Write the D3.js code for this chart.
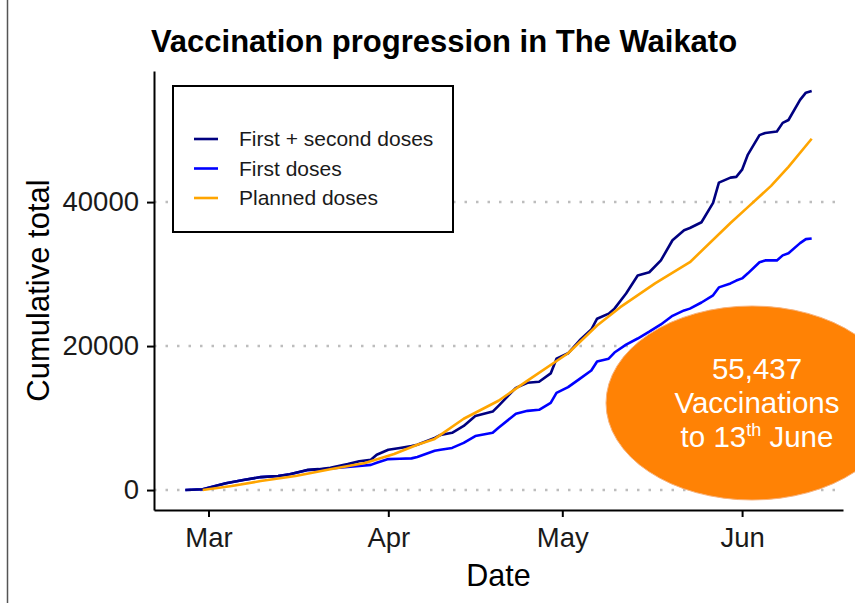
<!DOCTYPE html>
<html>
<head>
<meta charset="utf-8">
<script src="https://cdn.jsdelivr.net/npm/d3@7"></script>
<style>
  body { margin: 0; background: #fff; }
  text { font-family: "Liberation Sans", Arial, sans-serif; }
</style>
</head>
<body>
<div id="chart"></div>
<script>
// readings, cumulative totals
const actualDates = [
  "2021-02-25", "2021-02-28", "2021-03-04", "2021-03-07", "2021-03-10", "2021-03-13",
  "2021-03-15", "2021-03-18", "2021-03-20", "2021-03-22", "2021-03-25", "2021-03-27",
  "2021-03-29", "2021-03-30", "2021-04-01", "2021-04-03", "2021-04-05", "2021-04-06",
  "2021-04-09", "2021-04-10", "2021-04-12", "2021-04-14", "2021-04-16", "2021-04-19",
  "2021-04-20", "2021-04-23", "2021-04-25", "2021-04-27", "2021-04-29", "2021-04-30",
  "2021-05-02", "2021-05-04", "2021-05-06", "2021-05-07", "2021-05-09", "2021-05-10",
  "2021-05-12", "2021-05-14", "2021-05-16", "2021-05-18", "2021-05-20", "2021-05-22",
  "2021-05-23", "2021-05-25", "2021-05-27", "2021-05-28", "2021-05-30", "2021-05-31",
  "2021-06-01", "2021-06-02", "2021-06-04", "2021-06-05", "2021-06-07", "2021-06-08",
  "2021-06-09", "2021-06-11", "2021-06-12", "2021-06-13",
];
const firstSecondDoses = [
  0, 100, 950, 1400, 1800, 1950,
  2200, 2800, 2900, 3100, 3600, 4000,
  4200, 4900, 5600, 5850, 6100, 6300,
  7250, 7650, 7950, 8900, 10300, 10900,
  11700, 14200, 14900, 15050, 16200, 18250,
  19000, 20800, 22300, 23800, 24500, 25200,
  27300, 29800, 30250, 31900, 34700, 36100,
  36400, 37200, 39900, 42700, 43400, 43500,
  44500, 46600, 49300, 49600, 49800, 51000,
  51400, 54200, 55200, 55437,
];
const firstDoses = [
  0, 100, 950, 1400, 1800, 1950,
  2200, 2750, 2850, 3000, 3200, 3350,
  3500, 3800, 4300, 4350, 4400, 4600,
  5450, 5600, 5850, 6550, 7500, 7950,
  8650, 10600, 11000, 11150, 12100, 13500,
  14300, 15450, 16600, 17850, 18250, 19100,
  20200, 21050, 22000, 23000, 24200, 24950,
  25200, 26050, 27050, 28150, 28700, 29100,
  29400, 30100, 31650, 31900, 31900, 32600,
  32900, 34300, 34850, 34950,
];
const plannedDates = [
  "2021-02-28", "2021-03-05", "2021-03-10", "2021-03-16", "2021-03-22", "2021-03-28",
  "2021-04-02", "2021-04-06", "2021-04-09", "2021-04-14", "2021-04-20", "2021-04-25",
  "2021-05-02", "2021-05-07", "2021-05-11", "2021-05-17", "2021-05-23", "2021-05-30",
  "2021-06-02", "2021-06-06", "2021-06-09", "2021-06-13",
];
const plannedDoses = [
  0, 550, 1250, 1950, 2900, 3750,
  5000, 6300, 7100, 9900, 12400, 15200,
  19000, 22850, 25400, 28700, 31650, 37100,
  39300, 42250, 44900, 48800,
];

const yTicks = [0, 20000, 40000];
const monthTicks = ["2021-03-01", "2021-04-01", "2021-05-01", "2021-06-01"];
const monthLabels = ["Mar", "Apr", "May", "Jun"];

const seriesNames = ["First + second doses", "First doses", "Planned doses"];
const seriesColors = ["#000080", "#0000ff", "#ffa500"];

const parseDate = d3.timeParse("%Y-%m-%d");

const width = 855,
  height = 603;
const panel = { left: 154, right: 843, top: 71, bottom: 510 };

const svg = d3
  .select("#chart")
  .append("svg")
  .attr("width", width)
  .attr("height", height);

// frame line down the left edge of the picture
svg
  .append("line")
  .attr("x1", 7.5)
  .attr("x2", 7.5)
  .attr("y1", 0)
  .attr("y2", height)
  .attr("stroke", "#555")
  .attr("stroke-width", 1.5);

// ggplot style 5% expansion of both scales
const allDates = actualDates.concat(plannedDates).map(parseDate);
const dateExtent = d3.extent(allDates);
const datePad = (dateExtent[1] - dateExtent[0]) * 0.05;
const x = d3
  .scaleTime()
  .domain([new Date(+dateExtent[0] - datePad), new Date(+dateExtent[1] + datePad)])
  .range([panel.left, panel.right]);

const yMax = d3.max(firstSecondDoses);
const y = d3
  .scaleLinear()
  .domain([-yMax * 0.05, yMax * 1.05])
  .range([panel.bottom, panel.top]);

// dotted horizontal grid
svg
  .append("g")
  .selectAll("line")
  .data(yTicks)
  .enter()
  .append("line")
  .attr("x1", panel.left)
  .attr("x2", panel.right)
  .attr("y1", (d) => y(d))
  .attr("y2", (d) => y(d))
  .attr("stroke", "#bdbdbd")
  .attr("stroke-width", 2.5)
  .attr("stroke-dasharray", "2.5,9");

// axes
const xAxis = svg
  .append("g")
  .attr("transform", "translate(0," + panel.bottom + ")")
  .call(
    d3
      .axisBottom(x)
      .tickValues(monthTicks.map(parseDate))
      .tickFormat((d, i) => monthLabels[i])
      .tickSize(7)
      .tickSizeOuter(0)
      .tickPadding(10)
  );

const yAxis = svg
  .append("g")
  .attr("transform", "translate(" + panel.left + ",0)")
  .call(d3.axisLeft(y).tickValues(yTicks).tickFormat(d3.format("d")).tickSize(7).tickSizeOuter(0).tickPadding(8));

[xAxis, yAxis].forEach((g) => {
  g.select(".domain").attr("stroke", "#000").attr("stroke-width", 2);
  g.selectAll(".tick line").attr("stroke", "#000").attr("stroke-width", 2);
  g.selectAll(".tick text")
    .attr("fill", "#1a1a1a")
    .style("font-size", "27.5px")
    .style("font-family", '"Liberation Sans", Arial, sans-serif');
});

// lines, first doses underneath
const line = d3
  .line()
  .x((d) => x(d.date))
  .y((d) => y(d.value));

const toPoints = (dates, values) =>
  dates.map((d, i) => ({ date: parseDate(d), value: values[i] }));

const seriesData = [
  toPoints(actualDates, firstSecondDoses),
  toPoints(actualDates, firstDoses),
  toPoints(plannedDates, plannedDoses),
];

[1, 0, 2].forEach((i) => {
  svg
    .append("path")
    .datum(seriesData[i])
    .attr("fill", "none")
    .attr("stroke", seriesColors[i])
    .attr("stroke-width", 2.6)
    .attr("stroke-linejoin", "round")
    .attr("d", line);
});

// title and axis titles
svg
  .append("text")
  .attr("x", 444)
  .attr("y", 52)
  .attr("text-anchor", "middle")
  .style("font-size", "31px")
  .style("font-weight", "bold")
  .text("Vaccination progression in The Waikato");

svg
  .append("text")
  .attr("x", (panel.left + panel.right) / 2)
  .attr("y", 586)
  .attr("text-anchor", "middle")
  .style("font-size", "30.5px")
  .text("Date");

svg
  .append("text")
  .attr("transform", "translate(49," + (panel.top + panel.bottom) / 2 + ") rotate(-90)")
  .attr("text-anchor", "middle")
  .style("font-size", "31px")
  .text("Cumulative total");

// legend box
const legend = svg.append("g").attr("transform", "translate(173,86)");
legend
  .append("rect")
  .attr("width", 280)
  .attr("height", 146)
  .attr("fill", "#fff")
  .attr("stroke", "#000")
  .attr("stroke-width", 2);

seriesNames.forEach((name, i) => {
  const rowY = 53 + i * 29.5;
  legend
    .append("line")
    .attr("x1", 21)
    .attr("x2", 45)
    .attr("y1", rowY)
    .attr("y2", rowY)
    .attr("stroke", seriesColors[i])
    .attr("stroke-width", 2.6);
  legend
    .append("text")
    .attr("x", 66)
    .attr("y", rowY)
    .attr("dy", "0.35em")
    .style("font-size", "21px")
    .attr("fill", "#1a1a1a")
    .text(name);
});

// orange callout bubble
svg
  .append("ellipse")
  .attr("cx", 752)
  .attr("cy", 403)
  .attr("rx", 146)
  .attr("ry", 97)
  .attr("fill", "#ff8205")
  .attr("stroke", "#f7b27c")
  .attr("stroke-width", 1);

const callout = svg
  .append("text")
  .attr("text-anchor", "middle")
  .attr("fill", "#fff")
  .style("font-size", "29.5px");

callout.append("tspan").attr("x", 757).attr("y", 379).text(d3.format(",")(yMax));
callout.append("tspan").attr("x", 757).attr("y", 413).text("Vaccinations");
const lastLine = callout.append("tspan").attr("x", 757).attr("y", 447);
lastLine.append("tspan").text("to 13");
lastLine
  .append("tspan")
  .attr("dy", -11)
  .style("font-size", "18px")
  .text("th");
lastLine.append("tspan").attr("dy", 11).text(" June");
</script>
</body>
</html>
